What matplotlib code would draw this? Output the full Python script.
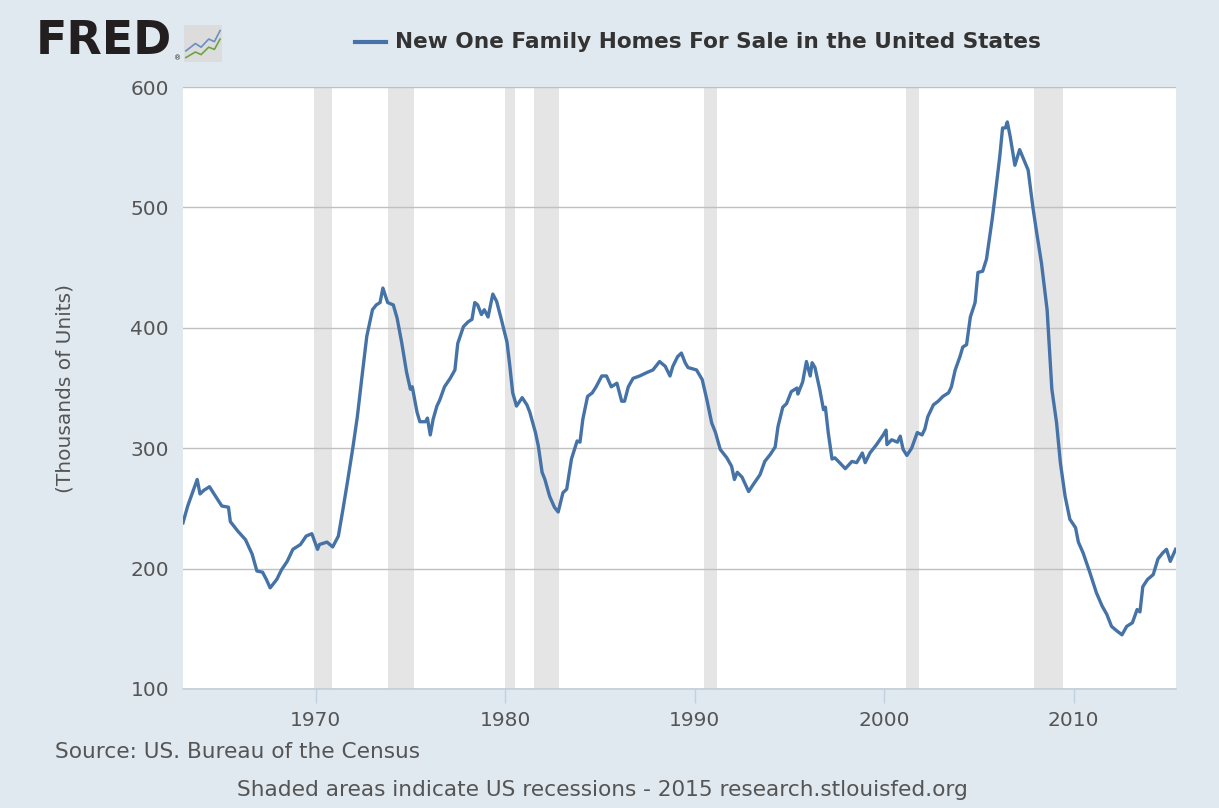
import matplotlib
matplotlib.use("Agg")
import matplotlib.pyplot as plt
import numpy as np

# ── data (decimal years) ─────────────────────────────────────────────────────
years = [
    1963.0, 1963.25, 1963.5, 1963.75, 1963.9, 1964.1, 1964.4, 1964.6, 1965.05, 1965.4,
    1965.5, 1965.9, 1966.3, 1966.65, 1966.9, 1967.2, 1967.4, 1967.6, 1967.95, 1968.2,
    1968.5, 1968.8, 1969.2, 1969.5, 1969.8, 1970.1, 1970.2, 1970.6, 1970.9, 1971.0,
    1971.2, 1971.45, 1971.7, 1971.97, 1972.2, 1972.45, 1972.7, 1973.0, 1973.2, 1973.4,
    1973.55, 1973.8, 1974.1, 1974.3, 1974.55, 1974.8, 1975.0, 1975.1, 1975.35, 1975.5,
    1975.8, 1975.9, 1976.05, 1976.2, 1976.4, 1976.55, 1976.8, 1977.1, 1977.35, 1977.5,
    1977.8, 1978.05, 1978.25, 1978.4, 1978.55, 1978.75, 1978.9, 1979.1, 1979.35, 1979.55,
    1979.8, 1980.1, 1980.25, 1980.4, 1980.6, 1980.9, 1981.15, 1981.3, 1981.6, 1981.75,
    1981.95, 1982.1, 1982.35, 1982.6, 1982.8, 1983.05, 1983.25, 1983.5, 1983.8, 1983.95,
    1984.1, 1984.35, 1984.6, 1984.8, 1985.1, 1985.35, 1985.6, 1985.9, 1986.15, 1986.3,
    1986.5, 1986.75, 1987.1, 1987.5, 1987.8, 1988.15, 1988.45, 1988.7, 1988.85, 1989.1,
    1989.3, 1989.5, 1989.65, 1990.1, 1990.4, 1990.65, 1990.9, 1991.1, 1991.35, 1991.7,
    1991.95, 1992.1, 1992.25, 1992.5, 1992.85, 1993.1, 1993.45, 1993.7, 1994.0, 1994.25,
    1994.4, 1994.65, 1994.85, 1995.1, 1995.4, 1995.45, 1995.7, 1995.9, 1996.1, 1996.2,
    1996.35, 1996.6, 1996.8, 1996.9, 1997.05, 1997.25, 1997.4, 1997.65, 1997.95, 1998.3,
    1998.55, 1998.85, 1999.0, 1999.25, 1999.6, 1999.95, 2000.1, 2000.15, 2000.4, 2000.7,
    2000.85, 2001.0, 2001.2, 2001.45, 2001.75, 2002.0, 2002.15, 2002.3, 2002.6, 2002.85,
    2003.1, 2003.4, 2003.55, 2003.75, 2004.0, 2004.15, 2004.35, 2004.55, 2004.8, 2004.95,
    2005.2, 2005.4, 2005.7, 2005.85, 2006.1, 2006.25, 2006.4, 2006.5, 2006.65, 2006.9,
    2007.15, 2007.6, 2007.85, 2008.05, 2008.3, 2008.6, 2008.85, 2009.1, 2009.3, 2009.55,
    2009.8, 2010.1, 2010.25, 2010.5, 2010.85, 2011.2, 2011.5, 2011.75, 2012.0, 2012.3,
    2012.55, 2012.8, 2013.1, 2013.35, 2013.5, 2013.65, 2013.9, 2014.2, 2014.45, 2014.7,
    2014.9, 2015.1, 2015.38,
]
homes_for_sale = [
    238, 252, 263, 274, 262, 265, 268, 263, 252, 251,
    239, 231, 224, 212, 198, 197, 191, 184, 191, 199,
    206, 216, 220, 227, 229, 216, 220, 222, 218, 221,
    227, 250, 274, 301, 326, 360, 393, 415, 419, 421,
    433, 421, 419, 408, 387, 363, 349, 351, 330, 322,
    322, 325, 311, 324, 335, 340, 351, 358, 365, 387,
    401, 405, 407, 421, 419, 411, 415, 409, 428, 422,
    407, 388, 368, 346, 335, 342, 336, 330, 313, 302,
    280, 274, 260, 251, 247, 263, 266, 291, 306, 305,
    324, 343, 346, 351, 360, 360, 351, 354, 339, 339,
    351, 358, 360, 363, 365, 372, 368, 360, 368, 376,
    379, 371, 367, 365, 357, 340, 321, 313, 299, 292,
    285, 274, 280, 276, 264, 270, 278, 289, 295, 301,
    318, 334, 337, 347, 350, 345, 355, 372, 360, 371,
    367, 349, 332, 334, 313, 291, 292, 288, 283, 289,
    288, 296, 288, 296, 303, 311, 315, 303, 307, 305,
    310, 299, 294, 300, 313, 311, 316, 326, 336, 339,
    343, 346, 351, 365, 376, 384, 386, 409, 421, 446,
    447, 457, 490, 509, 542, 566, 566, 571, 559, 535,
    548, 531, 500, 479, 454, 415, 349, 321, 288, 260,
    241, 234, 222, 213, 197, 180, 169, 162, 152, 148,
    145, 152, 155, 166, 164, 185, 191, 195, 208, 213,
    216, 206, 216,
]

# NBER recessions (start, end)
recessions = [
    (1969.92, 1970.87), (1973.83, 1975.17), (1980.0, 1980.5), (1981.5, 1982.83),
    (1990.5, 1991.17), (2001.17, 2001.83), (2007.92, 2009.42),
]

y_ticks = [100, 200, 300, 400, 500, 600]
x_ticks = [1970, 1980, 1990, 2000, 2010]

BG = "#e1e9f0"
LINE = "#4572a7"
TXT = "#555555"

fig = plt.figure(figsize=(12.19, 8.08), dpi=100, facecolor=BG)
ax = fig.add_axes([0.1501, 0.1473, 0.8146, 0.745])
ax.set_facecolor("white")

for s, e in recessions:
    ax.axvspan(s, e, color="#e5e5e5", lw=0, zorder=1)

ax.plot(years, homes_for_sale, color=LINE, lw=2.4, zorder=3, solid_joinstyle="round")

ax.set_xlim(1963.0, 2015.4)
ax.set_ylim(100, 600)
ax.set_yticks(y_ticks)
ax.set_xticks(x_ticks)
ax.yaxis.grid(True, color="#c0c0c0", lw=1.0, zorder=2)
ax.set_axisbelow(False)
for sp in ("top", "left", "right"):
    ax.spines[sp].set_visible(False)
ax.spines["bottom"].set_color("#c0d0e0")
ax.spines["bottom"].set_linewidth(1.2)
ax.tick_params(axis="y", length=0, pad=10, labelsize=14.5, labelcolor=TXT)
ax.tick_params(axis="x", length=10, width=1, color="#c0d0e0", pad=6,
               labelsize=14.5, labelcolor=TXT)
ax.set_ylabel("(Thousands of Units)", fontsize=14.5, color=TXT, labelpad=40)

# legend / title row
fig.lines.append(plt.Line2D([355 / 1219, 386 / 1219], [1 - 42 / 808] * 2,
                            transform=fig.transFigure, color=LINE, lw=3))
fig.text(395 / 1219, 1 - 42 / 808, "New One Family Homes For Sale in the United States",
         fontsize=15.6, fontweight="bold", color="#333333", va="center", ha="left")

# FRED logo
fig.text(36 / 1219, 1 - 42 / 808, "FRED", fontsize=33, fontweight="heavy",
         color="#231f20", va="center", ha="left")
fig.text(174 / 1219, 1 - 58 / 808, "®", fontsize=5, color="#231f20", va="center")
icon = fig.add_axes([184 / 1219, 1 - 62 / 808, 38 / 1219, 37 / 808])
icon.set_facecolor("#dcdcdc")
icon.plot([0.05, 0.3, 0.45, 0.65, 0.8, 0.95], [0.3, 0.5, 0.4, 0.62, 0.55, 0.85],
          color="#6a8fc0", lw=1.2)
icon.plot([0.05, 0.3, 0.45, 0.65, 0.8, 0.95], [0.12, 0.27, 0.2, 0.4, 0.34, 0.62],
          color="#6da344", lw=1.2)
icon.set_xlim(0, 1)
icon.set_ylim(0, 1)
icon.set_xticks([])
icon.set_yticks([])
for sp in icon.spines.values():
    sp.set_visible(False)

fig.text(55 / 1219, 1 - 752 / 808, "Source: US. Bureau of the Census",
         fontsize=15.6, color=TXT, va="center", ha="left")
fig.text(237 / 1219, 1 - 790 / 808,
         "Shaded areas indicate US recessions - 2015 research.stlouisfed.org",
         fontsize=15.6, color=TXT, va="center", ha="left")

fig.savefig("out.png", dpi=100, facecolor=BG)
